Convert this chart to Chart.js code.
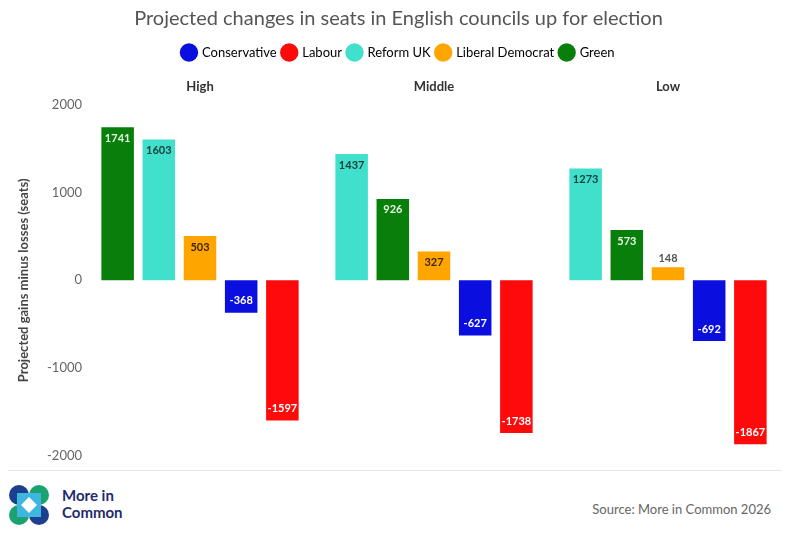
<!DOCTYPE html>
<html lang="en">
<head>
<meta charset="UTF-8">
<title>Projected changes in seats in English councils</title>
<script src="https://cdn.jsdelivr.net/npm/chart.js"></script>
<style>
    body { margin: 0; background: #fff; font-family: "Open Sans", "Noto Sans", sans-serif; }
    #wrap { width: 793px; height: 541px; position: relative; }
    #chart-box { position: absolute; left: 0; top: 0; width: 793px; height: 468px; }
    #rule { position: absolute; left: 8px; right: 12px; top: 470px; border-top: 1px solid #e6e6e6; }
    #logo { position: absolute; left: 8px; top: 484px; }
    #brand { position: absolute; left: 62px; top: 487px; color: #1f2b6e; font: bold 15px/17px "Lato", sans-serif; }
    #source { position: absolute; right: 22px; top: 501px; color: #666; font: 13px "Lato", sans-serif; }
</style>
</head>
<body>
<div id="wrap">
    <div id="chart-box"><canvas id="seatsChart"></canvas></div>
    <div id="rule"></div>
    <svg id="logo" width="42" height="42" viewBox="0 0 42 42">
        <circle cx="11" cy="11" r="10" fill="#1d3f8f"/>
        <circle cx="31" cy="11" r="10" fill="#1aa36f"/>
        <circle cx="11" cy="31" r="10" fill="#1aa36f"/>
        <circle cx="31" cy="31" r="10" fill="#1d3f8f"/>
        <rect x="9" y="9" width="24" height="24" fill="#3fb6e0"/>
        <path d="M21 13 L29 21 L21 29 L13 21 Z" fill="#fff"/>
    </svg>
    <div id="brand">More in<br>Common</div>
    <div id="source">Source: More in Common 2026</div>
</div>

<script>
    // scenarios and party results (seats gained minus lost)
    var scenarios = ['High', 'Middle', 'Low'];
    var parties = ['Conservative', 'Labour', 'Reform UK', 'Liberal Democrat', 'Green'];
    var conservative = [-368, -627, -692];
    var labour = [-1597, -1738, -1867];
    var reform = [1603, 1437, 1273];
    var libdem = [503, 327, 148];
    var green = [1741, 926, 573];
    var yTicks = [-2000, -1000, 0, 1000, 2000];

    var partyColors = ['#0a0fe0', '#ff0a0a', '#40e0cc', '#ffa500', '#087f0a'];
    var labelColors = ['#ffffff', '#ffffff', '#17403a', '#3a2600', '#eaf6e4'];
    var partyValues = [conservative, labour, reform, libdem, green];

    // each scenario is drawn in descending order, so build one dataset per rank
    var datasets = [];
    for (var r = 0; r < 5; r++) {
        datasets.push({ label: 'rank' + r, data: [], backgroundColor: [], partyIdx: [] });
    }
    scenarios.forEach(function (s, i) {
        var order = [0, 1, 2, 3, 4].sort(function (a, b) { return partyValues[b][i] - partyValues[a][i]; });
        order.forEach(function (p, r) {
            datasets[r].data.push(partyValues[p][i]);
            datasets[r].backgroundColor.push(partyColors[p]);
            datasets[r].partyIdx.push(p);
        });
    });

    // value labels inside the bar ends
    var barLabels = {
        id: 'barLabels',
        afterDatasetsDraw: function (chart) {
            var ctx = chart.ctx;
            ctx.save();
            ctx.font = 'bold 11px "Lato", sans-serif';
            ctx.textAlign = 'center';
            ctx.textBaseline = 'middle';
            chart.data.datasets.forEach(function (ds, di) {
                chart.getDatasetMeta(di).data.forEach(function (bar, i) {
                    var v = ds.data[i];
                    var h = Math.abs(bar.base - bar.y);
                    var y;
                    if (h < 20) {
                        y = bar.y - 9;
                        ctx.fillStyle = '#555';
                    } else {
                        y = v >= 0 ? bar.y + 11 : bar.y - 12;
                        ctx.fillStyle = labelColors[ds.partyIdx[i]];
                    }
                    ctx.fillText(String(v), bar.x, y);
                });
            });
            ctx.restore();
        }
    };

    var ctx = document.getElementById('seatsChart').getContext('2d');
    var seatsChart = new Chart(ctx, {
        type: 'bar',
        data: { labels: scenarios, datasets: datasets },
        plugins: [barLabels],
        options: {
            responsive: true,
            maintainAspectRatio: false,
            animation: false,
            categoryPercentage: 0.88,
            barPercentage: 0.79,
            layout: { padding: { left: 12, right: 8, top: 5, bottom: 12 } },
            plugins: {
                title: {
                    display: true,
                    text: 'Projected changes in seats in English councils up for election',
                    color: '#555',
                    font: { family: 'Lato', size: 20, weight: 'normal' },
                    padding: { top: 2, bottom: 9 }
                },
                legend: {
                    display: true,
                    onClick: null,
                    labels: {
                        usePointStyle: true,
                        pointStyle: 'circle',
                        boxWidth: 13,
                        boxHeight: 13,
                        padding: 6,
                        color: '#555',
                        font: { family: 'Lato', size: 13 },
                        generateLabels: function () {
                            return parties.map(function (p, i) {
                                return { text: p, fillStyle: partyColors[i], strokeStyle: partyColors[i], lineWidth: 0, pointStyle: 'circle' };
                            });
                        }
                    }
                },
                tooltip: { enabled: false }
            },
            scales: {
                x: {
                    position: 'top',
                    grid: { display: false, drawTicks: false },
                    border: { display: false },
                    ticks: { color: '#333', font: { family: 'Lato', size: 13, weight: 'bold' }, padding: 10 }
                },
                y: {
                    min: -2000,
                    max: 2000,
                    afterBuildTicks: function (scale) {
                        scale.ticks = yTicks.map(function (v) { return { value: v }; });
                    },
                    afterFit: function (scale) { scale.width = 71; },
                    grid: { display: false, drawTicks: false },
                    border: { display: false },
                    ticks: {
                        color: '#666',
                        font: { family: 'Lato', size: 13 },
                        padding: 1,
                        callback: function (v) { return String(v); }
                    },
                    title: {
                        display: true,
                        text: 'Projected gains minus losses (seats)',
                        color: '#444',
                        font: { family: 'Lato', size: 13, weight: 'bold' },
                        padding: { bottom: 4 }
                    }
                }
            }
        }
    });
</script>
</body>
</html>
